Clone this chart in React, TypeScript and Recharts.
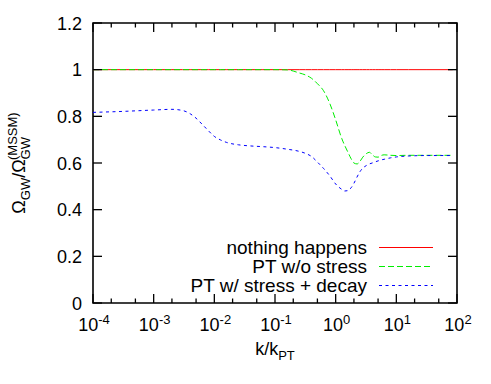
import React from "react";
import {
  LineChart,
  Line,
  XAxis,
  YAxis,
  ReferenceArea,
  Legend,
} from "recharts";

// k / k_PT sample points
const kValues = [
  0.0001, 0.0003, 0.001, 0.002, 0.003, 0.004, 0.005, 0.0063, 0.008, 0.01,
  0.0126, 0.016, 0.025, 0.04, 0.063, 0.1, 0.16, 0.25, 0.32, 0.4, 0.5, 0.63,
  0.8, 1.0, 1.26, 1.41, 1.6, 1.8, 2.0, 2.25, 2.5, 2.8, 3.2, 3.6, 4.0, 4.5, 5.0,
  5.6, 6.3, 8.0, 10, 16, 32, 85,
];

const nothingHappens = [
  1, 1, 1, 1, 1, 1, 1, 1, 1, 1, 1, 1, 1, 1, 1, 1, 1, 1, 1, 1, 1, 1, 1, 1, 1,
  1, 1, 1, 1, 1, 1, 1, 1, 1, 1, 1, 1, 1, 1, 1, 1, 1, 1, 1,
];

const ptNoStress = [
  1, 1, 1, 1, 1, 1, 1, 1, 1, 1, 1, 1, 1, 1, 1, 1, 0.999, 0.986, 0.977, 0.963,
  0.94, 0.91, 0.855, 0.785, 0.705, 0.675, 0.645, 0.618, 0.6, 0.596, 0.606,
  0.625, 0.64, 0.646, 0.636, 0.626, 0.625, 0.632, 0.635, 0.633, 0.632, 0.633,
  0.633, 0.633,
];

const ptStressDecay = [
  0.817, 0.821, 0.827, 0.83, 0.825, 0.811, 0.792, 0.766, 0.738, 0.714, 0.699,
  0.688, 0.678, 0.673, 0.67, 0.666, 0.659, 0.65, 0.641, 0.628, 0.604, 0.577,
  0.545, 0.51, 0.487, 0.48, 0.482, 0.494, 0.513, 0.54, 0.562, 0.578, 0.589,
  0.596, 0.6, 0.605, 0.609, 0.613, 0.616, 0.622, 0.626, 0.63, 0.632, 0.632,
];

const xMajor = [0.0001, 0.001, 0.01, 0.1, 1, 10, 100];
const xMinor = [
  0.0002, 0.0005, 0.002, 0.005, 0.02, 0.05, 0.2, 0.5, 2, 5, 20, 50,
];
const xExponents = ["-4", "-3", "-2", "-1", "0", "1", "2"];
const yTicks = [0, 0.2, 0.4, 0.6, 0.8, 1, 1.2];
const yLabels = ["0", "0.2", "0.4", "0.6", "0.8", "1", "1.2"];

const seriesNames = ["nothing happens", "PT w/o stress", "PT w/ stress + decay"];
const seriesColors = ["#ff0000", "#00ee00", "#0000ff"];
const seriesDash = ["", "6 3", "3 3.5"];

const data = kValues.map((k, i) => ({
  k,
  nothing: nothingHappens[i],
  noStress: ptNoStress[i],
  stressDecay: ptStressDecay[i],
}));

const FONT = "'Liberation Sans', Arial, Helvetica, sans-serif";
const W = 491;
const H = 384;
const PLOT = { left: 93, right: 457, top: 23, bottom: 303 };

const XTick = (props: any) => {
  const { x, payload } = props;
  const idx = xMajor.indexOf(payload.value);
  const major = idx >= 0;
  const len = major ? 9 : 4.5;
  return (
    <g>
      <line x1={x} x2={x} y1={PLOT.bottom} y2={PLOT.bottom - len} stroke="#000" strokeWidth={1.3} />
      <line x1={x} x2={x} y1={PLOT.top} y2={PLOT.top + len} stroke="#000" strokeWidth={1.3} />
      {major && (
        <text x={x + 1} y={331} textAnchor="middle" fontFamily={FONT} fontSize={18} fill="#000">
          10
          <tspan dy={-7} fontSize={13}>
            {xExponents[idx]}
          </tspan>
        </text>
      )}
    </g>
  );
};

const YTick = (props: any) => {
  const { y, payload } = props;
  const idx = yTicks.indexOf(payload.value);
  return (
    <g>
      <line x1={PLOT.left} x2={PLOT.left + 9} y1={y} y2={y} stroke="#000" strokeWidth={1.3} />
      <line x1={PLOT.right} x2={PLOT.right - 9} y1={y} y2={y} stroke="#000" strokeWidth={1.3} />
      <text x={82} y={y + 6.5} textAnchor="end" fontFamily={FONT} fontSize={18} fill="#000">
        {yLabels[idx]}
      </text>
    </g>
  );
};

const renderLegend = () => (
  <svg width={W} height={H} style={{ position: "absolute", left: 0, top: 0 }}>
    {seriesNames.map((name, i) => {
      const ly = 247.5 + i * 19;
      return (
        <g key={name}>
          <text x={367} y={ly + 6} textAnchor="end" fontFamily={FONT} fontSize={19} fill="#000">
            {name}
          </text>
          <line
            x1={379}
            x2={433}
            y1={ly}
            y2={ly}
            stroke={seriesColors[i]}
            strokeWidth={1}
            strokeDasharray={seriesDash[i] || undefined}
          />
        </g>
      );
    })}
  </svg>
);

export default function App() {
  return (
    <div style={{ position: "absolute", left: 0, top: 0, width: W, height: H }}>
      <LineChart
        width={W}
        height={H}
        data={data}
        margin={{ top: 23, right: 34, bottom: 51, left: 33 }}
      >
        <XAxis
          dataKey="k"
          type="number"
          scale="log"
          domain={[0.0001, 100]}
          ticks={[...xMajor, ...xMinor]}
          interval={0}
          allowDataOverflow
          height={30}
          tickLine={false}
          axisLine={false}
          tick={<XTick />}
        />
        <YAxis
          type="number"
          domain={[0, 1.2]}
          ticks={yTicks}
          interval={0}
          width={60}
          tickLine={false}
          axisLine={false}
          tick={<YTick />}
        />
        <ReferenceArea
          x1={0.0001}
          x2={100}
          y1={0}
          y2={1.2}
          fill="none"
          stroke="#000"
          strokeWidth={1.6}
          ifOverflow="visible"
        />
        <Line
          dataKey="nothing"
          type="linear"
          stroke={seriesColors[0]}
          strokeWidth={1}
          dot={false}
          isAnimationActive={false}
        />
        <Line
          dataKey="noStress"
          type="monotone"
          stroke={seriesColors[1]}
          strokeWidth={1}
          strokeDasharray={seriesDash[1]}
          dot={false}
          isAnimationActive={false}
        />
        <Line
          dataKey="stressDecay"
          type="monotone"
          stroke={seriesColors[2]}
          strokeWidth={1}
          strokeDasharray={seriesDash[2]}
          dot={false}
          isAnimationActive={false}
        />
        <Legend
          layout="vertical"
          align="center"
          verticalAlign="middle"
          content={renderLegend}
          wrapperStyle={{ position: "absolute", left: 0, top: 0, width: W, height: H, pointerEvents: "none" }}
        />
        <text
          x={275}
          y={355}
          textAnchor="middle"
          fontFamily={FONT}
          fontSize={18}
          fill="#000"
        >
          k/k
          <tspan dy={5} fontSize={13}>PT</tspan>
        </text>
        <g transform="translate(25,163) rotate(-90)">
          <text x={0} y={0} textAnchor="middle" fontFamily={FONT} fontSize={18} fill="#000">
            Ω
            <tspan dy={5} fontSize={13}>GW</tspan>
            <tspan dy={-5}>/Ω</tspan>
            <tspan dy={5} fontSize={13}>GW</tspan>
            <tspan dx={-23} dy={-13} fontSize={13}>(MSSM)</tspan>
          </text>
        </g>
      </LineChart>
    </div>
  );
}
